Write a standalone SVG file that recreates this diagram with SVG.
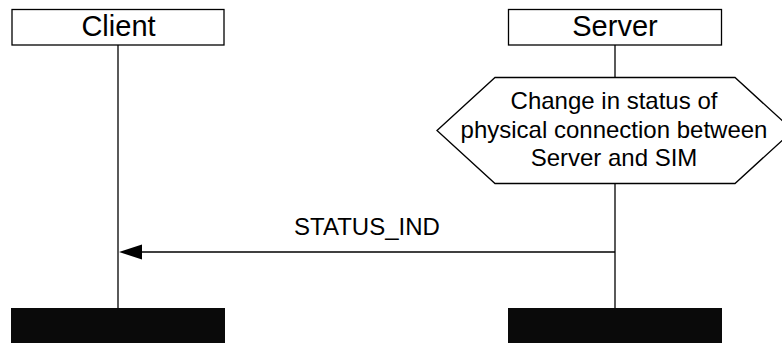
<svg xmlns="http://www.w3.org/2000/svg" width="782" height="343" viewBox="0 0 782 343">
  <style>
    .box { fill: #ffffff; stroke: #000000; stroke-width: 1.3; }
    .bar { fill: #0a0a0a; stroke: none; }
    .life { stroke: #000000; stroke-width: 1.3; fill: none; }
    .msg { stroke: #000000; stroke-width: 1.3; fill: none; }
    .head { fill: #000000; stroke: none; }
    .title { font-family: "Liberation Sans", Arial, sans-serif; font-size: 29px; fill: #000000; text-anchor: middle; }
    .label { font-family: "Liberation Sans", Arial, sans-serif; font-size: 24px; fill: #000000; text-anchor: middle; }
  </style>
  <rect width="782" height="343" fill="#ffffff"/>

  <!-- lifelines -->
  <g id="lifelines">
    <line class="life" x1="118" y1="45" x2="118" y2="308"/>
    <line class="life" x1="615" y1="45" x2="615" y2="78"/>
    <line class="life" x1="615" y1="183" x2="615" y2="308"/>
  </g>

  <!-- Client instance -->
  <g id="client">
    <rect class="box" x="12" y="9.5" width="212" height="35.5"/>
    <text class="title" x="118.5" y="36">Client</text>
    <rect class="bar" x="11" y="308" width="214" height="35"/>
  </g>

  <!-- Server instance -->
  <g id="server">
    <rect class="box" x="508.5" y="9.5" width="213" height="35.5"/>
    <text class="title" x="615" y="36">Server</text>
    <rect class="bar" x="508" y="308" width="214" height="35"/>
  </g>

  <!-- Server condition -->
  <g id="condition">
    <polygon class="box" points="437,130.5 495,77.5 735,77.5 793,130.5 735,183.5 495,183.5"/>
    <text class="label" x="614" y="108.5">Change in status of</text>
    <text class="label" x="614" y="137.5">physical connection between</text>
    <text class="label" x="614" y="166">Server and SIM</text>
  </g>

  <!-- messages -->
  <g id="connectors">
    <line class="msg" x1="615" y1="252" x2="140" y2="252"/>
    <polygon class="head" points="119,252 142,244.5 142,259.5"/>
    <text class="label" x="367" y="235">STATUS_IND</text>
  </g>
</svg>
